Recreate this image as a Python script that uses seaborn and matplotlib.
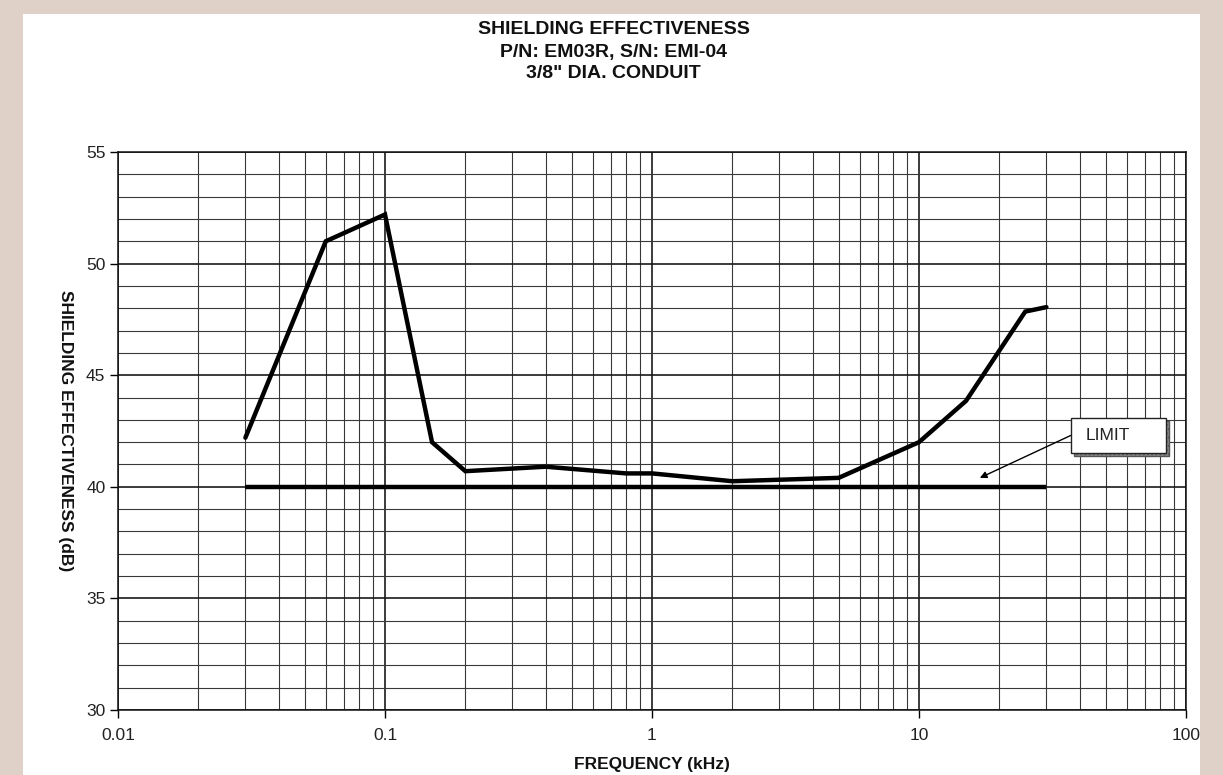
import matplotlib
matplotlib.use("Agg")
import matplotlib.pyplot as plt
import matplotlib.ticker as mticker
from matplotlib.patches import Rectangle
import numpy as np
import pandas as pd
import seaborn as sns

# Measured shielding effectiveness of the conduit sample
freq_khz = [0.03, 0.06, 0.1, 0.15, 0.2, 0.4, 0.8, 1.0, 2.0, 5.0, 10.0, 15.0, 25.0, 30.0]
shield_db = [42.2, 51.0, 52.2, 42.0, 40.7, 40.9, 40.6, 40.6, 40.25, 40.4, 42.0, 43.85, 47.85, 48.05]

# Specification limit
limit_freq = [0.03, 30.0]
limit_db = [40.0, 40.0]

x_ticks = [0.01, 0.1, 1, 10, 100]
x_tick_labels = ["0.01", "0.1", "1", "10", "100"]
y_ticks = [30, 35, 40, 45, 50, 55]

title_lines = ["SHIELDING EFFECTIVENESS", "P/N: EM03R, S/N: EMI-04", '3/8" DIA. CONDUIT']

sns.set_style("white")
plt.rcParams["font.family"] = ["Liberation Sans", "DejaVu Sans"]

data = pd.DataFrame({"freq": freq_khz, "se": shield_db})
limit = pd.DataFrame({"freq": limit_freq, "se": limit_db})

W, H = 1223, 775
fig = plt.figure(figsize=(W / 100, H / 100), dpi=100, facecolor="#dfd1c7")
# white sheet behind everything
fig.patches.append(Rectangle((23 / W, 0), (1200 - 23) / W, 1 - 14 / H,
                             transform=fig.transFigure, facecolor="white",
                             edgecolor="none", zorder=-10))
ax = fig.add_axes([118 / W, 1 - 710 / H, (1186 - 118) / W, (710 - 152) / H])
ax.set_zorder(1)
ax.set_facecolor("white")

sns.lineplot(data=limit, x="freq", y="se", ax=ax, color="black", lw=3.2,
             solid_capstyle="butt", zorder=3)
sns.lineplot(data=data, x="freq", y="se", ax=ax, color="black", lw=3.2,
             solid_joinstyle="miter", zorder=4)

ax.set_xscale("log")
ax.set_xlim(0.01, 100)
ax.set_ylim(30, 55)

ax.xaxis.set_major_locator(mticker.FixedLocator(x_ticks))
ax.xaxis.set_major_formatter(mticker.FixedFormatter(x_tick_labels))
ax.xaxis.set_minor_locator(mticker.LogLocator(base=10, subs=np.arange(2, 10)))
ax.xaxis.set_minor_formatter(mticker.NullFormatter())
ax.yaxis.set_major_locator(mticker.FixedLocator(y_ticks))
ax.yaxis.set_minor_locator(mticker.MultipleLocator(1))

ax.grid(which="major", color="#1a1a1a", lw=1.2)
ax.grid(which="minor", color="#383838", lw=0.8)
ax.set_axisbelow(True)

ax.tick_params(axis="both", which="major", direction="out", length=6, width=1,
               bottom=True, left=True, color="black", labelsize=12.5,
               labelcolor="#222222")
ax.tick_params(axis="y", which="major", pad=3)
ax.tick_params(axis="x", which="major", pad=7)
ax.tick_params(axis="both", which="minor", length=0)
for s in ax.spines.values():
    s.set_color("#111111")
    s.set_linewidth(1.1)

ax.set_xlabel("FREQUENCY (kHz)", fontsize=12.5, fontweight="bold", color="#111111",
              va="center")
ax.xaxis.set_label_coords(0.5, (710 - 765) / 558)
ax.set_ylabel("SHIELDING EFFECTIVENESS (dB)", fontsize=12.5, fontweight="bold",
              color="#111111", rotation=270, va="center", ha="center")
ax.yaxis.set_label_coords((65 - 118) / 1068, 0.5)

for i, line in enumerate(title_lines):
    fig.text(0.5 + 2 / W, 1 - (30 + 22 * i) / H, line, ha="center", va="center",
             fontsize=14, fontweight="bold", color="#111111")

# LIMIT callout with drop shadow
ax.annotate("", xy=(16.9, 40.4), xytext=(37.0, 42.3),
            arrowprops=dict(arrowstyle="-|>", color="black", lw=1.0,
                            mutation_scale=10, shrinkA=0, shrinkB=0), zorder=6)
box_px = (1071, 418, 1166, 453)
bx0, by0 = box_px[0] / W, 1 - box_px[3] / H
bw, bh = (box_px[2] - box_px[0]) / W, (box_px[3] - box_px[1]) / H
fig.patches.append(Rectangle((bx0 + 3 / W, by0 - 3 / H), bw, bh, transform=fig.transFigure,
                             facecolor="#888888", edgecolor="#555555", lw=1, hatch="....",
                             zorder=5))
fig.patches.append(Rectangle((bx0, by0), bw, bh, transform=fig.transFigure,
                             facecolor="white", edgecolor="#222222", lw=1.0, zorder=6))
fig.text(bx0 + bw / 2 - 11 / W, by0 + bh / 2, "LIMIT", ha="center", va="center",
         fontsize=12.5, color="#222222", zorder=7)

fig.savefig("out.png", dpi=100, facecolor=fig.get_facecolor())
